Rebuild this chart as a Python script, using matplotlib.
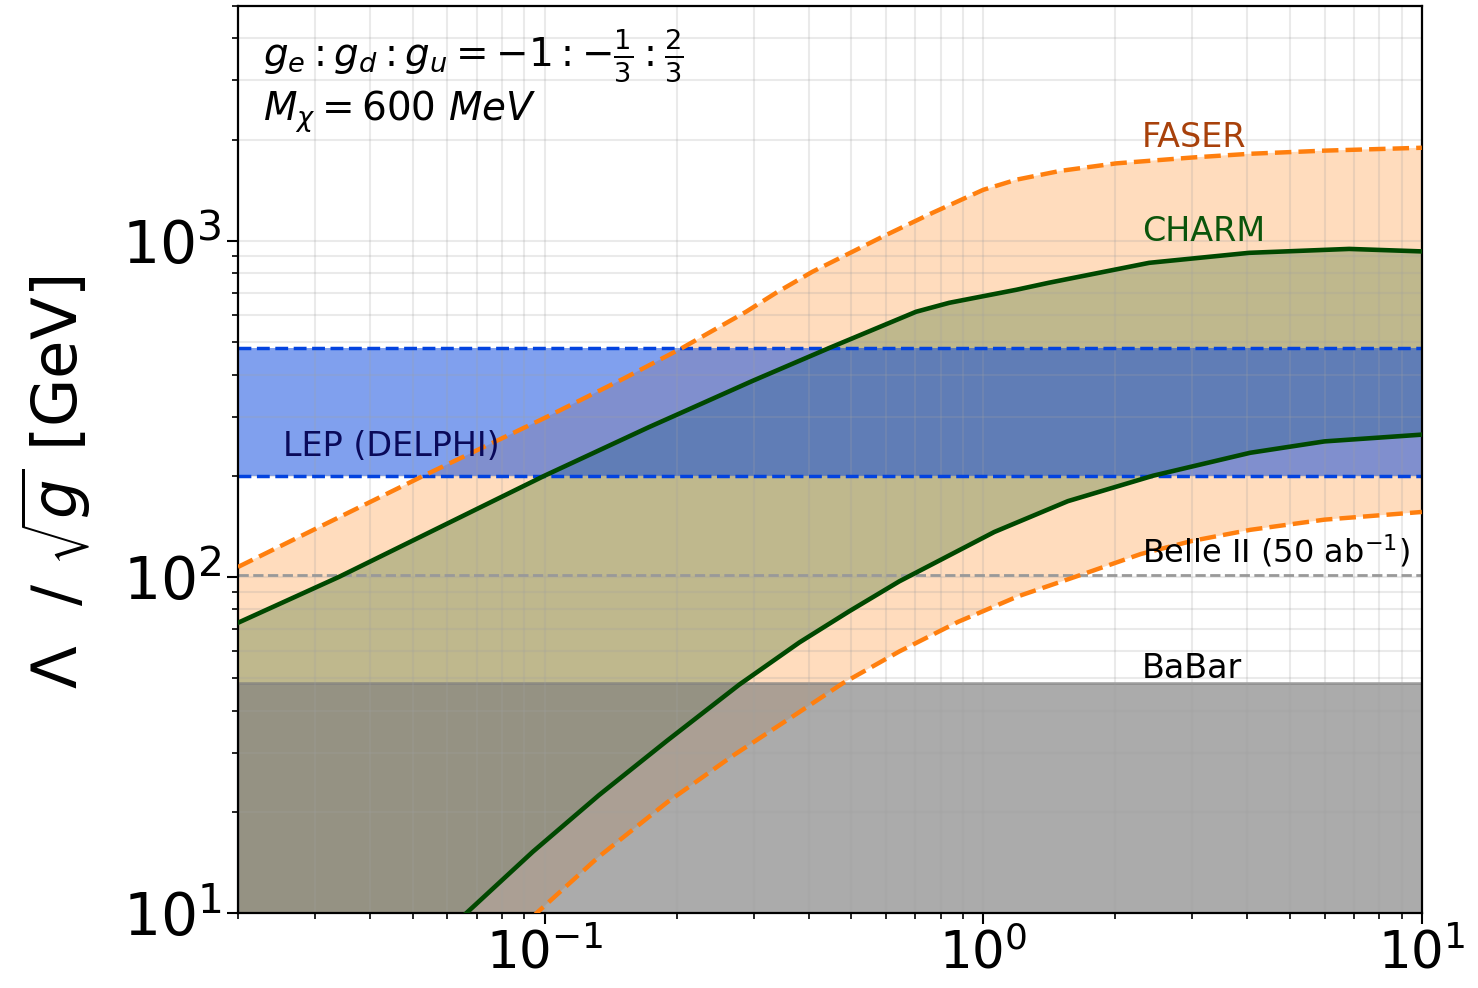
import matplotlib.pyplot as plt
import numpy as np

# FASER band (orange, dashed edges)
faser_up_x = [0.02, 0.053, 0.1, 0.152, 0.206, 0.288, 0.337, 0.408, 0.589, 0.766, 1.0, 1.19, 1.5, 2.01, 3.0, 4.04, 6.0, 10.0]
faser_up_y = [107, 200, 297, 390, 480, 615, 700, 809, 1028, 1211, 1418, 1520, 1615, 1700, 1770, 1815, 1855, 1892]
faser_lo_x = [0.02, 0.096, 0.133, 0.19, 0.268, 0.381, 0.478, 0.644, 0.877, 1.2, 1.62, 2.29, 3.0, 4.06, 6.0, 10.0]
faser_lo_y = [1.0, 10, 14.7, 21.3, 29.3, 39.6, 48.2, 60.0, 73.5, 87.5, 100, 117, 128, 138, 148, 156]

# CHARM band (green, solid edges)
charm_up_x = [0.02, 0.034, 0.1, 0.173, 0.212, 0.298, 0.446, 0.703, 0.837, 1.19, 1.41, 2.39, 4.04, 6.83, 10.0]
charm_up_y = [73, 100, 200, 279, 314, 383, 480, 615, 654, 715, 750, 860, 921, 946, 930]
charm_lo_x = [0.02, 0.0664, 0.094, 0.133, 0.19, 0.278, 0.381, 0.495, 0.644, 1.06, 1.56, 2.44, 4.06, 6.0, 10.0]
charm_lo_y = [2.3, 10, 15.2, 22.4, 32.5, 47.8, 63.8, 79.0, 97.0, 136, 168, 200, 234, 253, 265]

# horizontal limits
lep_lo, lep_hi = 200, 480
belle2 = 101
babar = 48.4

fig = plt.figure(figsize=(14.78, 9.88), dpi=100)
ax = fig.add_axes([0.161, 0.076, 0.801, 0.918])
ax.set_xscale('log')
ax.set_yscale('log')

ax.fill(faser_up_x + faser_lo_x[::-1], faser_up_y + faser_lo_y[::-1],
        color='#ff7f0e', alpha=0.27, lw=0, zorder=1)
ax.fill(charm_up_x + charm_lo_x[::-1], charm_up_y + charm_lo_y[::-1],
        color='#005000', alpha=0.25, lw=0, zorder=1)
ax.axhspan(lep_lo, lep_hi, color='#0343df', alpha=0.5, lw=0, zorder=1)
ax.axhspan(1e-3, babar, facecolor='#7f7f7f', alpha=0.65, edgecolor='#7f7f7f', lw=2, zorder=1)

ax.axhline(lep_lo, color='#0343df', ls='--', lw=2.5, zorder=2)
ax.axhline(lep_hi, color='#0343df', ls='--', lw=2.5, zorder=2)
ax.axhline(belle2, color='#999999', ls='--', lw=2, zorder=2)

ax.plot(faser_up_x, faser_up_y, color='#ff7f0e', ls='--', lw=3.2, zorder=3)
ax.plot(faser_lo_x, faser_lo_y, color='#ff7f0e', ls='--', lw=3.2, zorder=3)
ax.plot(charm_up_x, charm_up_y, color='#004800', lw=3.3, zorder=3)
ax.plot(charm_lo_x, charm_lo_y, color='#004800', lw=3.3, zorder=3)

ax.set_xlim(0.02, 10)
ax.set_ylim(10, 5000)

ax.grid(which='both', color='#a0a0a0', alpha=0.22, lw=1.5)

ax.text(2.3, 1900, 'FASER', color='#a8410b', fontsize=24)
ax.text(2.3, 1000, 'CHARM', color='#0b550b', fontsize=24)
ax.text(0.0253, 229, 'LEP (DELPHI)', color='#0a0a5a', fontsize=24)
ax.text(2.3, 110, 'Belle II $(50\\ \\mathrm{ab}^{-1})$', color='black', fontsize=23)
ax.text(2.3, 50, 'BaBar', color='black', fontsize=24)

ax.text(0.021, 0.933, r'$g_e : g_d : g_u = -1 : -\frac{1}{3} : \frac{2}{3}$',
        transform=ax.transAxes, fontsize=28, va='baseline')
ax.text(0.021, 0.874, r'$M_{\chi} = 600\ MeV$', transform=ax.transAxes, fontsize=28, va='baseline')

ax.set_ylabel(r'$\Lambda\ \ /\ \sqrt{g}$ [GeV]', fontsize=45)
ax.yaxis.set_label_coords(-0.122, 0.475)

ax.tick_params(which='major', labelsize=37, length=8, width=1.5)
ax.tick_params(axis='y', which='major', labelsize=42)
ax.tick_params(which='minor', length=4.5, width=1.2)
for s in ax.spines.values():
    s.set_linewidth(1.6)

plt.savefig('out.png', dpi=100, facecolor='white')
